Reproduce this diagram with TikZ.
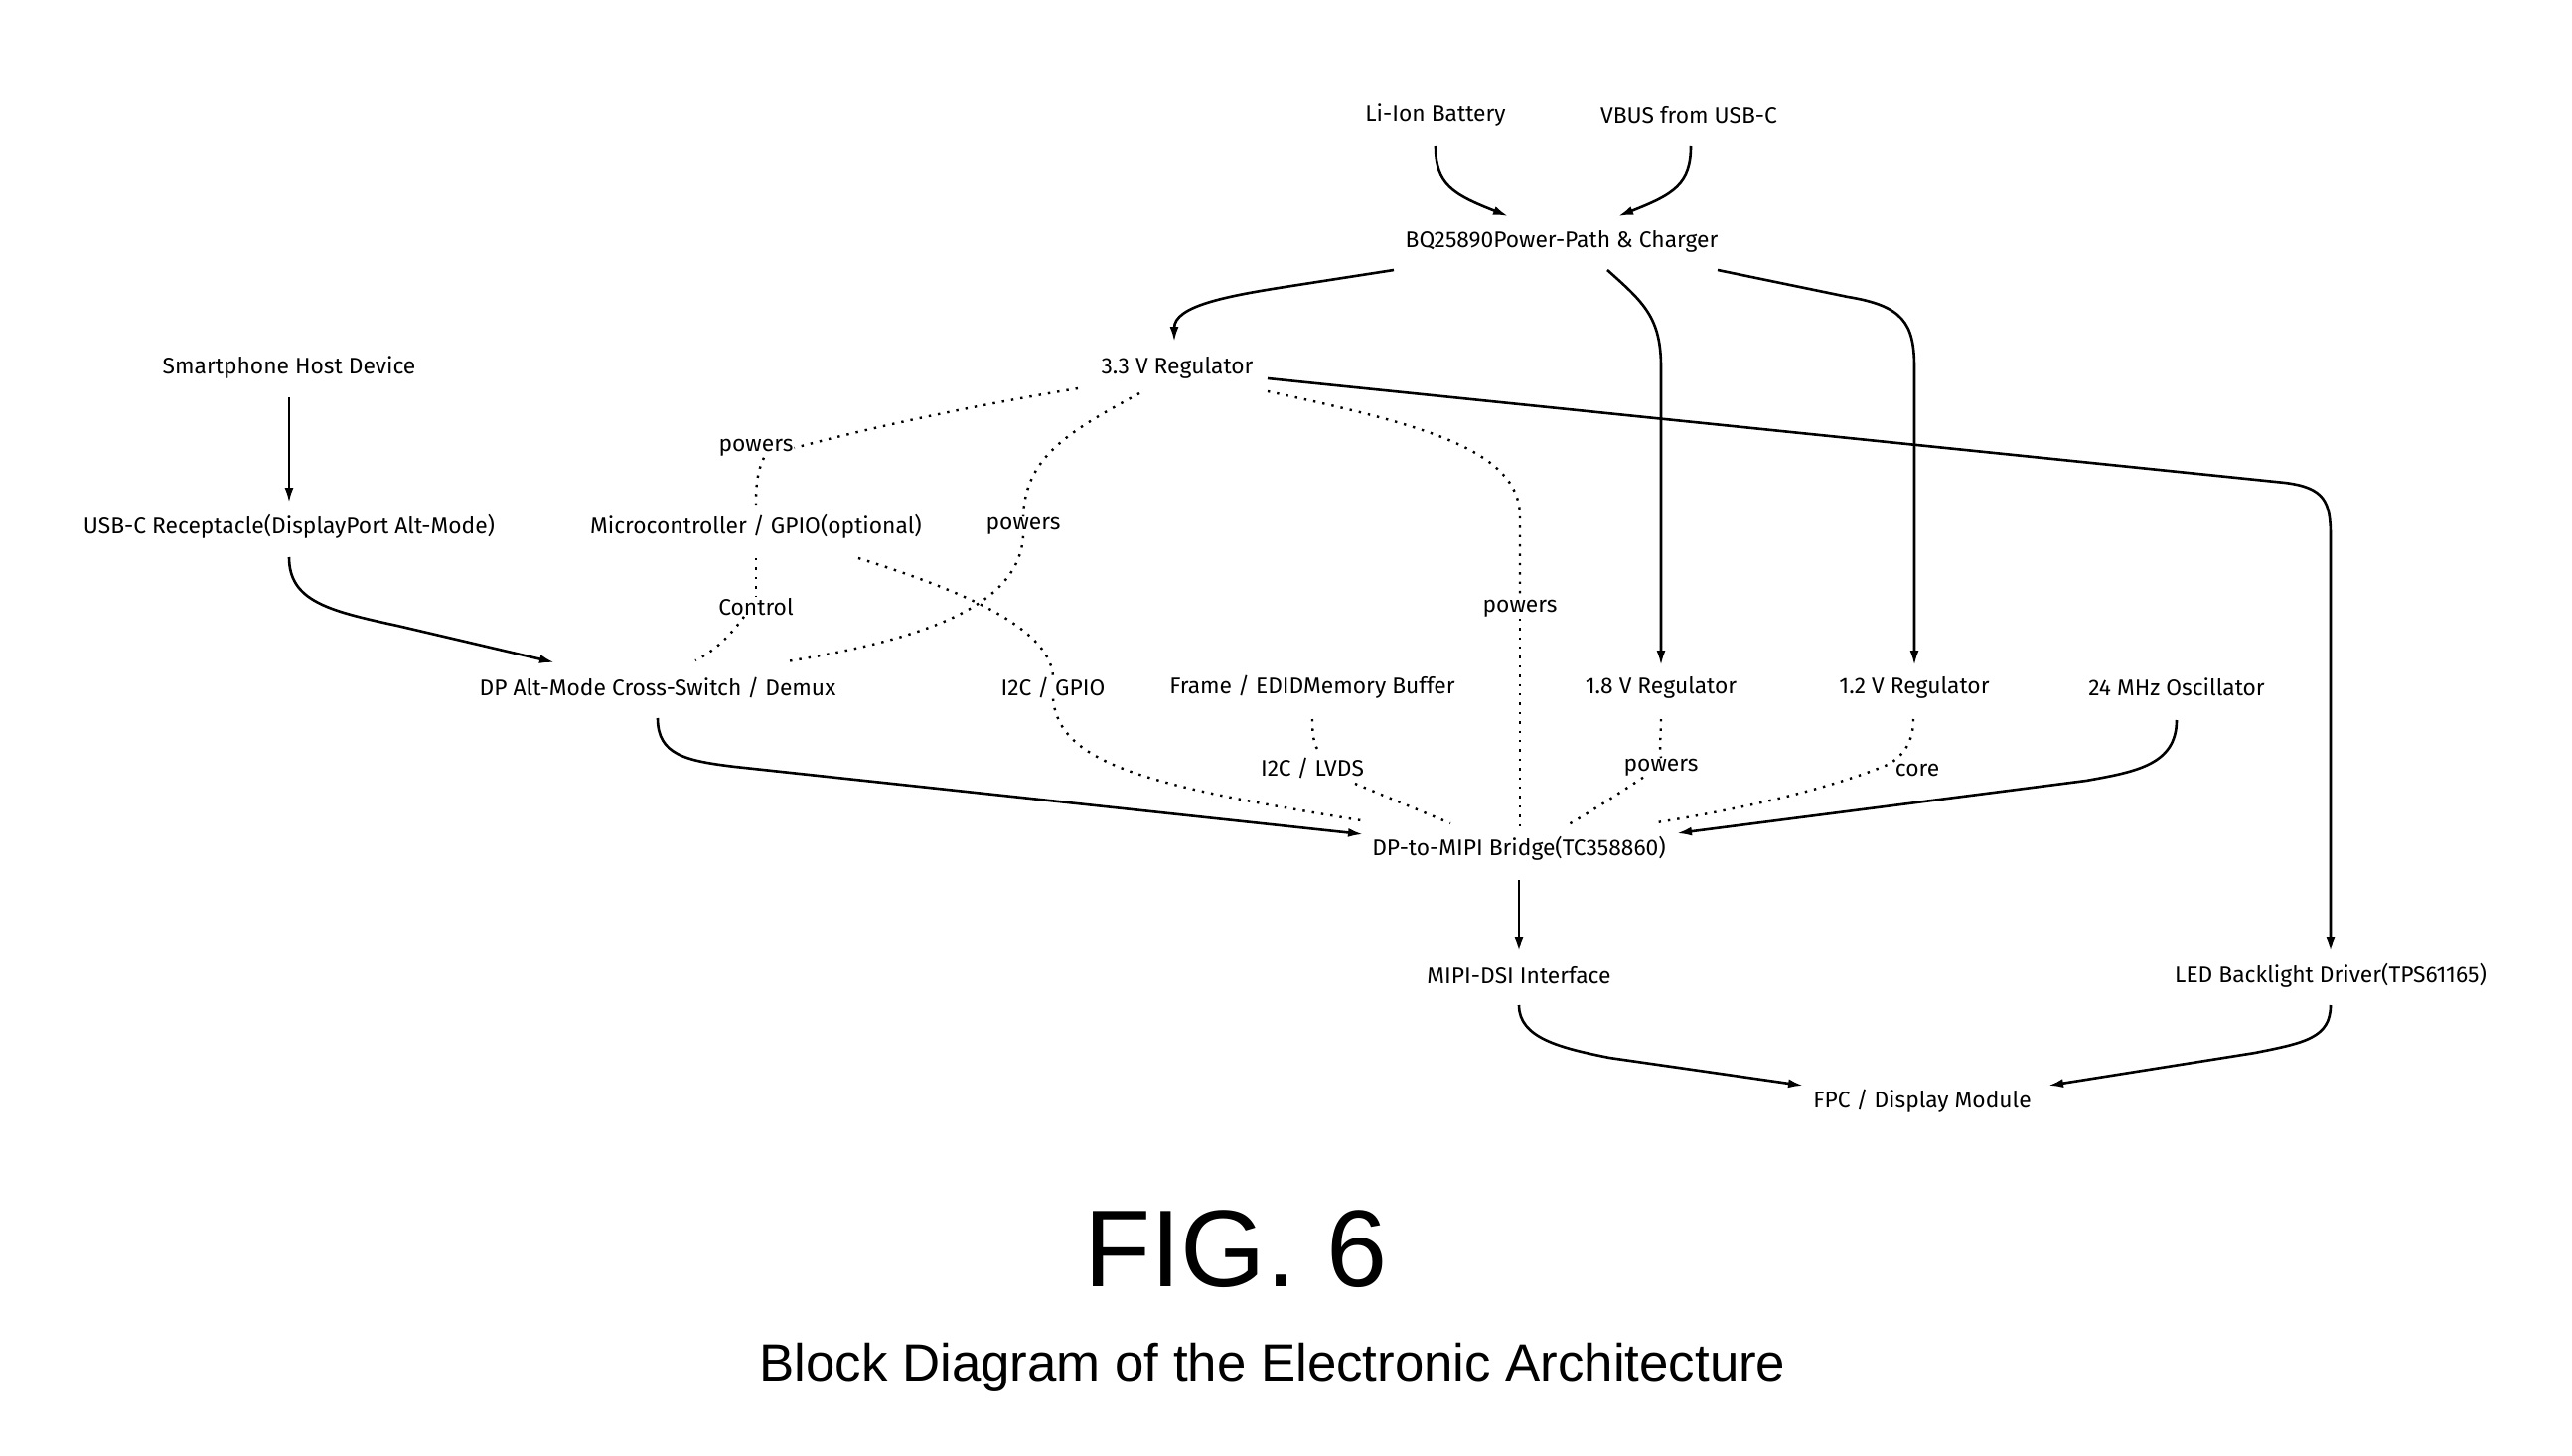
\documentclass[tikz,border=0pt]{standalone}
\usepackage{fontspec}
\setmainfont{Fira Sans}
\newfontfamily\arialfont{Liberation Sans}
\usetikzlibrary{arrows.meta}
\begin{document}
\begin{tikzpicture}[x=1pt,y=-1pt,
  lbl/.style={inner sep=1pt,font=\fontsize{22.8}{26}\selectfont},
  solidline/.style={line width=2.6pt,-{Latex[length=15pt,width=9pt]}},
  dotline/.style={line width=2.4pt,dash pattern=on 2.4pt off 7pt}]
\useasboundingbox (0,0) rectangle (2589,1466);
% nodes
\node[lbl] (bat) at (1445,116) {Li-Ion Battery};
\node[lbl] (vbus) at (1700,116) {VBUS from USB-C};
\node[lbl] (chg) at (1572,243) {BQ25890Power-Path \& Charger};
\node[lbl] (phone) at (291,370) {Smartphone Host Device};
\node[lbl] (r33) at (1185,370) {3.3 V Regulator};
\node[lbl] (usbc) at (291,530) {USB-C Receptacle(DisplayPort Alt-Mode)};
\node[lbl] (mcu) at (761,530) {Microcontroller / GPIO(optional)};
\node[lbl] (dpalt) at (662,692) {DP Alt-Mode Cross-Switch / Demux};
\node[lbl] (buf) at (1321,692) {Frame / EDIDMemory Buffer};
\node[lbl] (r18) at (1672,692) {1.8 V Regulator};
\node[lbl] (r12) at (1927,692) {1.2 V Regulator};
\node[lbl] (osc) at (2191,692) {24 MHz Oscillator};
\node[lbl] (bridge) at (1529,854) {DP-to-MIPI Bridge(TC358860)};
\node[lbl] (mipi) at (1529,982) {MIPI-DSI Interface};
\node[lbl] (led) at (2346,982) {LED Backlight Driver(TPS61165)};
\node[lbl] (fpc) at (1935,1109) {FPC / Display Module};
% edge end coordinates
\coordinate (batS) at (1445,147);
\coordinate (vbusS) at (1702,147);
\coordinate (chgNW) at (1518,217);
\coordinate (chgNE) at (1629,217);
\coordinate (chgSW) at (1403,272);
\coordinate (chgS) at (1618,272);
\coordinate (chgSE) at (1729,272);
\coordinate (r33N) at (1182,344);
\coordinate (r18N) at (1672,670);
\coordinate (r12N) at (1927,670);
\coordinate (phoneS) at (291,400);
\coordinate (usbcN) at (291,506);
\coordinate (usbcS) at (291,561);
\coordinate (dpaltN) at (558,667);
\coordinate (r33E) at (1276,381);
\coordinate (ledN) at (2346,958);
% solid edges
\draw[solidline] (batS) .. controls (1445,185) and (1462,195) .. (chgNW);
\draw[solidline] (vbusS) .. controls (1702,185) and (1685,195) .. (chgNE);
\draw[solidline] (chgSW) -- (1300,288) .. controls (1235,298) and (1182,308) .. (r33N);
\draw[solidline] (chgS) .. controls (1655,305) and (1672,320) .. (1672,370) -- (r18N);
\draw[solidline] (chgSE) -- (1860,299) .. controls (1915,308) and (1927,325) .. (1927,370) -- (r12N);
\draw[solidline] (phoneS) -- (usbcN);
\draw[solidline] (usbcS) .. controls (291,605) and (330,615) .. (400,630) -- (dpaltN);
\draw[solidline] (r33E) -- (2300,486) .. controls (2340,491) and (2346,505) .. (2346,540) -- (ledN);
% dotted labelled edges (r33 -> mcu, mcu -> dpalt, r33 -> dpalt)
\coordinate (r33W) at (1085,391);
\coordinate (mcuN) at (761,508);
\node[lbl] (lp1) at (761,451) {powers};
\draw[dotline] (r33W) .. controls (970,410) and (870,432) .. (lp1.east);
\draw[dotline] ([xshift=8pt]lp1.south) .. controls (762,475) and (761,490) .. (mcuN);
\node[lbl] (lctl) at (761,611) {Control};
\coordinate (mcuS) at (761,562);
\coordinate (dpaltNa) at (700,665);
\draw[dotline] (mcuS) -- (lctl.north);
\draw[dotline] ([xshift=-12pt]lctl.south) .. controls (735,640) and (720,655) .. (dpaltNa);
\coordinate (r33SW) at (1147,396);
\coordinate (dpaltNb) at (792,666);
\node[lbl] (lp2) at (1030,530) {powers};
\draw[dotline] (r33SW) .. controls (1075,435) and (1032,460) .. (lp2.north);
\draw[dotline] (lp2.south) .. controls (1025,620) and (900,648) .. (dpaltNb);
% mcu -> bridge via I2C / GPIO
\coordinate (mcuE) at (864,562);
\coordinate (bridgeNW1) at (1370,826);
\node[lbl] (lgpio) at (1060,692) {I2C / GPIO};
\draw[dotline] (mcuE) .. controls (960,592) and (1056,630) .. (lgpio.north);
\draw[dotline] (lgpio.south) .. controls (1066,770) and (1160,792) .. (bridgeNW1);
% buf -> bridge
\coordinate (bufS) at (1321,724);
\coordinate (bridgeNW2) at (1460,829);
\node[lbl] (llvds) at (1321,773) {I2C / LVDS};
\draw[dotline] (bufS) .. controls (1321,745) and (1324,752) .. (1328,757);
\draw[dotline] (1364,789) -- (bridgeNW2);
% r33 -> bridge
\coordinate (r33SE) at (1276,394);
\coordinate (bridgeN) at (1530,834);
\node[lbl,fill=white] (lp3) at (1530,613) {powers};
\draw[dotline] (r33SE) .. controls (1420,425) and (1530,450) .. (1530,520) -- (lp3.north);
\draw[dotline] (lp3.south) -- (bridgeN);
% r18 -> bridge
\coordinate (r18S) at (1672,724);
\coordinate (bridgeNE1) at (1579,830);
\node[lbl] (lp4) at (1672,773) {powers};
\draw[dotline] (r18S) .. controls (1672,740) and (1670,750) .. (lp4.north);
\draw[dotline] ([xshift=-18pt]lp4.south) .. controls (1620,805) and (1600,818) .. (bridgeNE1);
% r12 -> bridge
\coordinate (r12S) at (1926,724);
\coordinate (bridgeNE2) at (1668,828);
\node[lbl] (lcore) at (1930,775) {core};
\draw[dotline] (r12S) .. controls (1926,745) and (1918,760) .. (1900,770) .. controls (1840,795) and (1750,815) .. (bridgeNE2);
% solid into bridge
\coordinate (dpaltS) at (662,723);
\coordinate (bridgeW) at (1372,840);
\draw[solidline] (dpaltS) .. controls (662,760) and (690,766) .. (740,772) -- (bridgeW);
\coordinate (oscS) at (2191,725);
\coordinate (bridgeE) at (1688,839);
\draw[solidline] (oscS) .. controls (2191,770) and (2150,777) .. (2100,786) -- (bridgeE);
% bottom
\coordinate (bridgeS) at (1529,886);
\coordinate (mipiN) at (1529,958);
\draw[solidline] (bridgeS) -- (mipiN);
\coordinate (mipiS) at (1529,1012);
\coordinate (fpcNW) at (1815,1093);
\draw[solidline] (mipiS) .. controls (1529,1045) and (1570,1055) .. (1620,1065) -- (fpcNW);
\coordinate (ledS) at (2346,1012);
\coordinate (fpcNE) at (2062,1093);
\draw[solidline] (ledS) .. controls (2346,1045) and (2320,1050) .. (2270,1060) -- (fpcNE);
% titles
\node[font=\arialfont\fontsize{110}{120}\selectfont] (fig) at (1244,1258) {FIG. 6};
\node[font=\arialfont\fontsize{52.8}{60}\selectfont] (cap) at (1281,1377) {Block Diagram of the Electronic Architecture};
\end{tikzpicture}
\end{document}
